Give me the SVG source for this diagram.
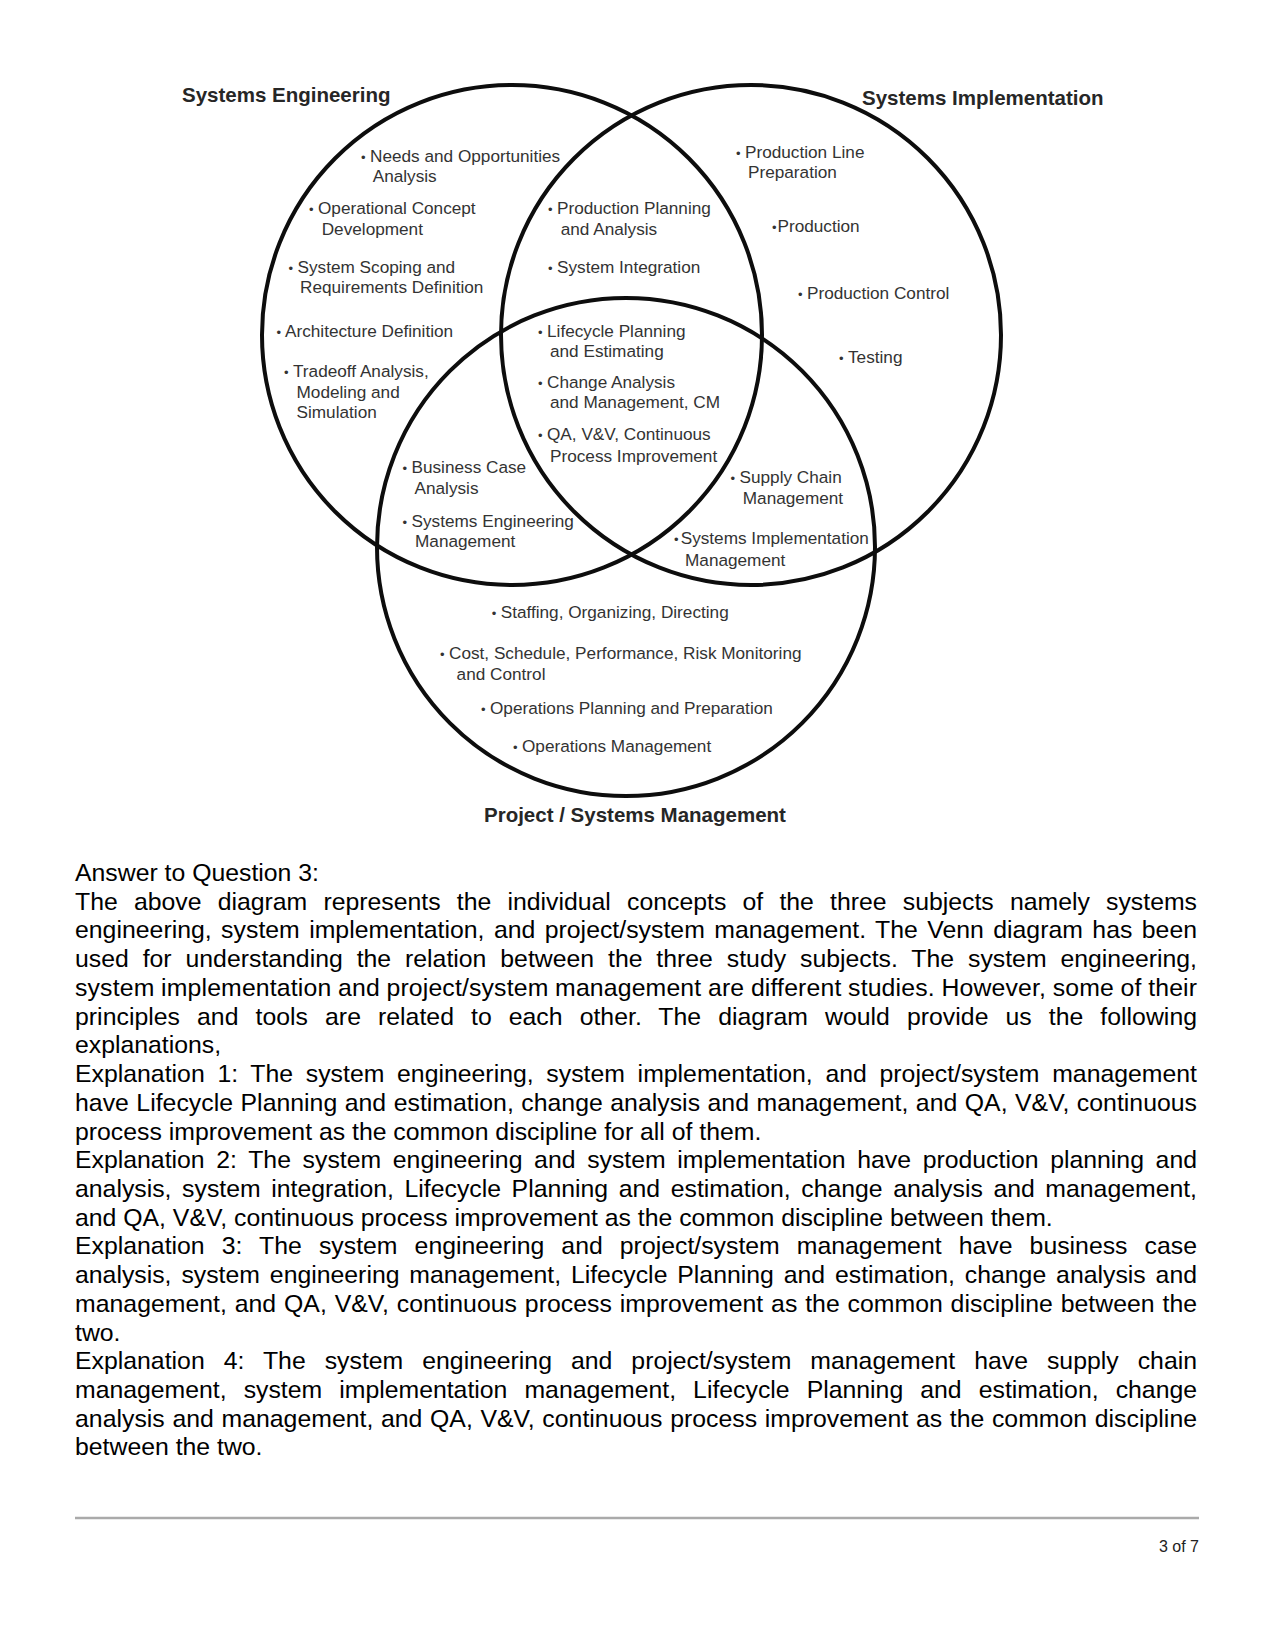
<svg xmlns="http://www.w3.org/2000/svg" width="1275" height="1650" viewBox="0 0 1275 1650">
<style>
.ring{fill:none;stroke:#0d0d0d;stroke-width:4}
.title{font-family:"Liberation Sans",Arial,sans-serif;font-weight:bold;font-size:20.5px;fill:#262626}
.item{font-family:"Liberation Sans",Arial,sans-serif;font-size:17.2px;fill:#333}
.bul{font-size:13px}
.body{font-family:"Liberation Sans",Arial,sans-serif;font-size:24.8px;fill:#000}
.foot{font-family:"Liberation Sans",Arial,sans-serif;font-size:16px;fill:#222}
</style>
<rect width="1275" height="1650" fill="#fff"/>

<g id="systems-engineering">
<circle class="ring" cx="512" cy="335" r="250"/>
<text class="title" x="182" y="102">Systems Engineering</text>
</g>
<g id="systems-implementation">
<circle class="ring" cx="751" cy="335" r="250"/>
<text class="title" x="862" y="105">Systems Implementation</text>
</g>
<g id="project-systems-management">
<circle class="ring" cx="626" cy="547" r="249"/>
<text class="title" x="484" y="822">Project / Systems Management</text>
</g>

<g id="se-only">
<text class="item" x="361" y="161.7"><tspan class="bul">•</tspan><tspan x="370">Needs and Opportunities</tspan><tspan x="372.7" dy="20">Analysis</tspan></text>
<text class="item" x="309" y="214"><tspan class="bul">•</tspan><tspan x="318">Operational Concept</tspan><tspan x="321.7" dy="21">Development</tspan></text>
<text class="item" x="288.5" y="273"><tspan class="bul">•</tspan><tspan x="297.5">System Scoping and</tspan><tspan x="300" dy="20">Requirements Definition</tspan></text>
<text class="item" x="276.5" y="336.7"><tspan class="bul">•</tspan><tspan x="285">Architecture Definition</tspan></text>
<text class="item" x="284" y="377"><tspan class="bul">•</tspan><tspan x="293">Tradeoff Analysis,</tspan><tspan x="296.5" dy="21">Modeling and</tspan><tspan x="296.5" dy="20">Simulation</tspan></text>
</g>

<g id="se-si">
<text class="item" x="548" y="214"><tspan class="bul">•</tspan><tspan x="557">Production Planning</tspan><tspan x="560.7" dy="21">and Analysis</tspan></text>
<text class="item" x="548" y="273"><tspan class="bul">•</tspan><tspan x="557">System Integration</tspan></text>
</g>

<g id="all-three">
<text class="item" x="538" y="336.7"><tspan class="bul">•</tspan><tspan x="547">Lifecycle Planning</tspan><tspan x="550" dy="20">and Estimating</tspan></text>
<text class="item" x="538" y="388"><tspan class="bul">•</tspan><tspan x="547">Change Analysis</tspan><tspan x="550" dy="20">and Management, CM</tspan></text>
<text class="item" x="538" y="440"><tspan class="bul">•</tspan><tspan x="547">QA, V&amp;V, Continuous</tspan><tspan x="550" dy="21.7">Process Improvement</tspan></text>
</g>

<g id="se-pm">
<text class="item" x="402.5" y="473"><tspan class="bul">•</tspan><tspan x="411.5">Business Case</tspan><tspan x="414.5" dy="21">Analysis</tspan></text>
<text class="item" x="402.5" y="526.7"><tspan class="bul">•</tspan><tspan x="411.5">Systems Engineering</tspan><tspan x="415" dy="20">Management</tspan></text>
</g>

<g id="si-only">
<text class="item" x="736" y="158"><tspan class="bul">•</tspan><tspan x="745">Production Line</tspan><tspan x="748" dy="20">Preparation</tspan></text>
<text class="item" x="772" y="231.7"><tspan class="bul">•</tspan><tspan x="777.5">Production</tspan></text>
<text class="item" x="798" y="299.3"><tspan class="bul">•</tspan><tspan x="807">Production Control</tspan></text>
<text class="item" x="839" y="363.3"><tspan class="bul">•</tspan><tspan x="848">Testing</tspan></text>
</g>

<g id="si-pm">
<text class="item" x="730.5" y="483"><tspan class="bul">•</tspan><tspan x="739.5">Supply Chain</tspan><tspan x="742.8" dy="21">Management</tspan></text>
<text class="item" x="674" y="544"><tspan class="bul">•</tspan><tspan x="680.7">Systems Implementation</tspan><tspan x="685" dy="22">Management</tspan></text>
</g>

<g id="pm-only">
<text class="item" x="491.7" y="617.7"><tspan class="bul">•</tspan><tspan x="500.7">Staffing, Organizing, Directing</tspan></text>
<text class="item" x="440" y="659.3"><tspan class="bul">•</tspan><tspan x="449">Cost, Schedule, Performance, Risk Monitoring</tspan><tspan x="456.6" dy="20.7">and Control</tspan></text>
<text class="item" x="481" y="714"><tspan class="bul">•</tspan><tspan x="490">Operations Planning and Preparation</tspan></text>
<text class="item" x="513" y="751.7"><tspan class="bul">•</tspan><tspan x="522">Operations Management</tspan></text>
</g>

<g id="answer-text">
<text class="body" x="75" y="881">Answer to Question 3:</text>
<text class="body" x="75" y="909.7" word-spacing="9.3" textLength="1122" lengthAdjust="spacing">The above diagram represents the individual concepts of the three subjects namely systems</text>
<text class="body" x="75" y="938.4" word-spacing="2.5" textLength="1122" lengthAdjust="spacing">engineering, system implementation, and project/system management. The Venn diagram has been</text>
<text class="body" x="75" y="967.2" word-spacing="7" textLength="1122" lengthAdjust="spacing">used for understanding the relation between the three study subjects. The system engineering,</text>
<text class="body" x="75" y="995.9" word-spacing="-0.4" textLength="1122" lengthAdjust="spacing">system implementation and project/system management are different studies. However, some of their</text>
<text class="body" x="75" y="1024.6" word-spacing="10.1" textLength="1122" lengthAdjust="spacing">principles and tools are related to each other. The diagram would provide us the following</text>
<text class="body" x="75" y="1053.3">explanations,</text>
<text class="body" x="75" y="1082" word-spacing="5.8" textLength="1122" lengthAdjust="spacing">Explanation 1: The system engineering, system implementation, and project/system management</text>
<text class="body" x="75" y="1110.8" word-spacing="0.57" textLength="1122" lengthAdjust="spacing">have Lifecycle Planning and estimation, change analysis and management, and QA, V&amp;V, continuous</text>
<text class="body" x="75" y="1139.5">process improvement as the common discipline for all of them.</text>
<text class="body" x="75" y="1168.2" word-spacing="4.75" textLength="1122" lengthAdjust="spacing">Explanation 2: The system engineering and system implementation have production planning and</text>
<text class="body" x="75" y="1196.9" word-spacing="3.7" textLength="1122" lengthAdjust="spacing">analysis, system integration, Lifecycle Planning and estimation, change analysis and management,</text>
<text class="body" x="75" y="1225.6">and QA, V&amp;V, continuous process improvement as the common discipline between them.</text>
<text class="body" x="75" y="1254.4" word-spacing="10.2" textLength="1122" lengthAdjust="spacing">Explanation 3: The system engineering and project/system management have business case</text>
<text class="body" x="75" y="1283.1" word-spacing="3" textLength="1122" lengthAdjust="spacing">analysis, system engineering management, Lifecycle Planning and estimation, change analysis and</text>
<text class="body" x="75" y="1311.8" word-spacing="0.92" textLength="1122" lengthAdjust="spacing">management, and QA, V&amp;V, continuous process improvement as the common discipline between the</text>
<text class="body" x="75" y="1340.5">two.</text>
<text class="body" x="75" y="1369.2" word-spacing="12.1" textLength="1122" lengthAdjust="spacing">Explanation 4: The system engineering and project/system management have supply chain</text>
<text class="body" x="75" y="1398" word-spacing="10.2" textLength="1122" lengthAdjust="spacing">management, system implementation management, Lifecycle Planning and estimation, change</text>
<text class="body" x="75" y="1426.7" word-spacing="0.7" textLength="1122" lengthAdjust="spacing">analysis and management, and QA, V&amp;V, continuous process improvement as the common discipline</text>
<text class="body" x="75" y="1455.4">between the two.</text>
</g>

<g id="footer">
<line x1="75" y1="1518" x2="1199" y2="1518" stroke="#aaa" stroke-width="2.5"/>
<text class="foot" x="1199" y="1552" text-anchor="end">3 of 7</text>
</g>
</svg>
